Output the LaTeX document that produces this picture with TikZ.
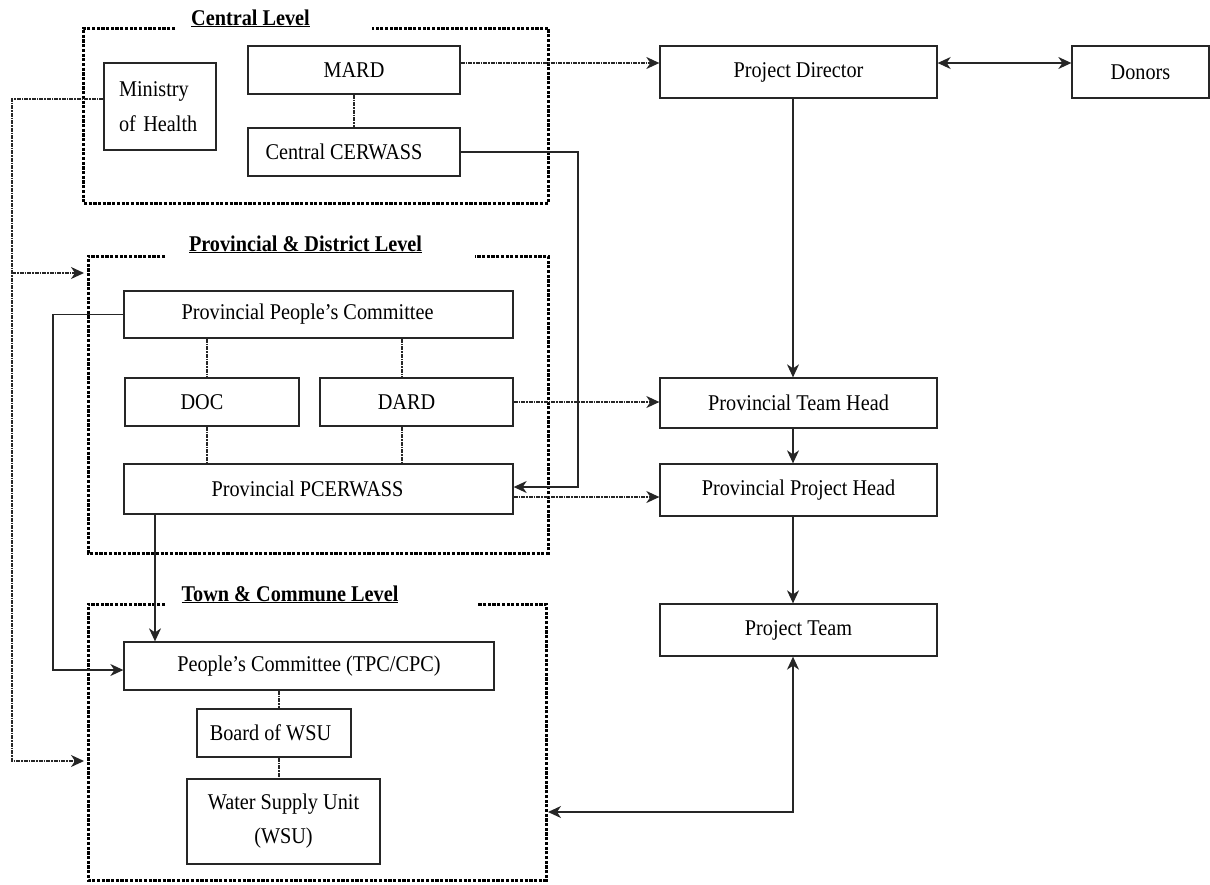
\documentclass[tikz,border=0pt]{standalone}
\usepackage{fontspec}
\setmainfont[FakeStretch=0.9]{Liberation Serif}
\usetikzlibrary{arrows.meta,calc}
\newcommand\fsz{\fontsize{22.5}{26}\selectfont}
\begin{document}
\begin{tikzpicture}[x=1pt,y=-1pt,
  box/.style={draw=black!85, line width=1.3pt, inner sep=0pt, align=center, font=\fsz, text=black},
  frame/.style={line width=3pt, dash pattern=on 3.2pt off 1.5pt, black},
  title/.style={font=\fsz\bfseries, anchor=base, inner sep=0pt},
  con/.style={line width=1.3pt, black!85},
  dotcon/.style={line width=1.4pt, black!85, dash pattern=on 4pt off 1pt on 1.5pt off 1pt},
  tip/.style={-{Stealth[length=13pt,width=12pt,inset=4pt]}},
  tips/.style={{Stealth[length=13pt,width=12pt,inset=4pt]}-{Stealth[length=13pt,width=12pt,inset=4pt]}}
]
\useasboundingbox (0,0) rectangle (1210,884);

% frames
\draw[frame] (175,28) -- (83,28) -- (83,203) -- (548,203) -- (548,28) -- (372,28);
\node[title] (tcentral) at (250.5,25) {\underline{Central Level}};
\draw[frame] (165,256) -- (88,256) -- (88,553) -- (548,553) -- (548,256) -- (475,256);
\node[title] (tprov) at (305.5,251) {\underline{Provincial \& District Level}};
\draw[frame] (165,604) -- (88,604) -- (88,880) -- (546,880) -- (546,604) -- (477,604);
\node[title] (ttown) at (290,601) {\underline{Town \& Commune Level}};
\coordinate (provIn) at (84,273);
\coordinate (townIn) at (84,761);
\coordinate (townE) at (548,812);

% boxes
\node[box, minimum width=112, minimum height=87, text width=82, inner xsep=15, align=left,
      font=\fontsize{22.5}{35}\selectfont] (moh) at (160,106.5) {Ministry\\of Health};
\node[box, minimum width=212, minimum height=48] (mard) at (354,70) {MARD};
\node[box, minimum width=212, minimum height=48] (ccer) at (354,152) {\hspace*{-20pt}Central CERWASS};
\node[box, minimum width=277, minimum height=52] (pd) at (798.5,72) {Project Director};
\node[box, minimum width=137, minimum height=52] (donors) at (1140.5,72) {Donors};
\node[box, minimum width=389, minimum height=47] (ppc) at (318.5,314.5) {\hspace*{-22pt}Provincial People’s Committee};
\node[box, minimum width=174, minimum height=48] (doc) at (212,402) {\hspace*{-20pt}DOC};
\node[box, minimum width=193, minimum height=48] (dard) at (416.5,402) {\hspace*{-20pt}DARD};
\node[box, minimum width=389, minimum height=50] (pcer) at (318.5,489) {\hspace*{-22pt}Provincial PCERWASS};
\node[box, minimum width=277, minimum height=50] (pth) at (798.5,403) {Provincial Team Head};
\node[box, minimum width=277, minimum height=52] (pph) at (798.5,490) {Provincial Project Head};
\node[box, minimum width=277, minimum height=52] (pt) at (798.5,630) {Project Team};
\node[box, minimum width=370, minimum height=48] (tpc) at (309,666) {People’s Committee (TPC/CPC)};
\node[box, minimum width=154, minimum height=48] (bws) at (274,733) {\hspace*{-7pt}Board of WSU};
\node[box, minimum width=193, minimum height=85, font=\fontsize{22.5}{34}\selectfont] (wsu) at (283.5,821.5) {Water Supply Unit\\(WSU)};

% dotted internal links
\draw[dotcon] (mard.south) -- (ccer.north);
\draw[dotcon] (ppc.south -| 207,0) -- (doc.north -| 207,0);
\draw[dotcon] (ppc.south -| 402,0) -- (dard.north -| 402,0);
\draw[dotcon] (doc.south -| 207,0) -- (pcer.north -| 207,0);
\draw[dotcon] (dard.south -| 402,0) -- (pcer.north -| 402,0);
\draw[dotcon] (tpc.south -| 279,0) -- (bws.north -| 279,0);
\draw[dotcon] (bws.south -| 279,0) -- (wsu.north -| 279,0);

% dotted arrows
\draw[dotcon,tip] (mard.east |- 0,63) -- (pd.west |- 0,63);
\draw[dotcon,tip] (dard.east) -- (dard.east -| pth.west);
\draw[dotcon,tip] (pcer.east |- 0,497) -- (pph.west |- 0,497);
\draw[dotcon,tip] (moh.west |- 0,99) -- (12,99) -- (12,761) -- (townIn);
\draw[dotcon,tip] (12,273) -- (provIn);

% solid arrows
\draw[con,tips] (pd.east |- 0,63) -- (donors.west |- 0,63);
\draw[con,tip] (pd.south -| 793,0) -- (pth.north -| 793,0);
\draw[con,tip] (pth.south -| 793,0) -- (pph.north -| 793,0);
\draw[con,tip] (pph.south -| 793,0) -- (pt.north -| 793,0);
\draw[con,tips] (pt.south -| 793,0) -- (793,812) -- (townE);
\draw[con,tip] (ccer.east) -- (578,152) -- (578,487) -- (pcer.east |- 0,487);
\draw[con,tip] (ppc.west) -- (53,314.5) -- (53,670) -- (tpc.west |- 0,670);
\draw[con,tip] (pcer.south -| 155,0) -- (tpc.north -| 155,0);
\end{tikzpicture}
\end{document}
